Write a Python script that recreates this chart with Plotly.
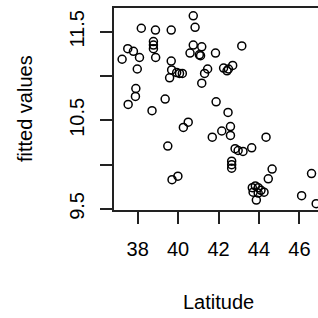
import plotly.graph_objects as go

latitude = [38.18, 38.88, 39.66, 38.78, 38.78, 38.78, 38.89, 37.51, 37.79, 38.09,
            37.23, 37.98, 39.66, 39.68, 39.58, 39.93, 40.07, 40.21, 37.91, 37.89,
            37.53, 39.36, 38.71, 40.26, 40.50, 39.49, 39.70, 39.99, 40.75, 40.84,
            40.75, 41.17, 40.59, 41.05, 41.11, 41.85, 43.15, 41.46, 41.31, 41.17,
            42.25, 42.49, 42.70, 42.42, 41.88, 42.47, 42.59, 42.16, 42.59, 41.69,
            42.82, 42.97, 43.21, 43.64, 44.35, 42.65, 42.65, 42.65, 44.65, 44.46,
            43.67, 43.82, 43.96, 44.10, 44.25, 43.71, 43.96, 43.87, 46.60, 46.11,
            46.83]
fitted = [11.54, 11.52, 11.52, 11.39, 11.35, 11.31, 11.21, 11.31, 11.28, 11.21,
          11.19, 11.08, 11.17, 11.07, 10.98, 11.04, 11.03, 11.03, 10.86, 10.77,
          10.68, 10.74, 10.61, 10.42, 10.48, 10.21, 9.83, 9.87, 11.68, 11.55,
          11.35, 11.33, 11.26, 11.24, 11.23, 11.26, 11.34, 11.08, 11.03, 10.92,
          11.09, 11.08, 11.12, 11.06, 10.71, 10.59, 10.43, 10.38, 10.33, 10.31,
          10.18, 10.16, 10.15, 10.19, 10.31, 10.04, 10.00, 9.96, 9.95, 9.84,
          9.74, 9.76, 9.74, 9.71, 9.69, 9.69, 9.68, 9.60, 9.90, 9.65,
          9.56]

x_ticks = [38, 40, 42, 44, 46]
y_ticks = [9.5, 10.0, 10.5, 11.0, 11.5]
y_tick_labels = ["9.5", "", "10.5", "", "11.5"]

FONT = "Liberation Sans, Arial, sans-serif"

fig = go.Figure()
fig.add_trace(go.Scatter(
    x=latitude, y=fitted, mode="markers",
    marker=dict(symbol="circle-open", size=8, color="black", line=dict(width=1.5, color="black")),
    showlegend=False, hoverinfo="skip",
))

fig.update_layout(
    width=318, height=318,
    margin=dict(l=113, r=0, t=7, b=107),
    paper_bgcolor="white", plot_bgcolor="white",
    font=dict(family=FONT, size=21, color="black"),
    xaxis=dict(range=[36.78, 46.92], tickvals=x_ticks, ticktext=[str(v) for v in x_ticks],
               showgrid=False, zeroline=False, showline=False,
               ticks="outside", ticklen=12, tickwidth=2, tickcolor="#222",
               ticklabelstandoff=8, tickfont=dict(size=20)),
    yaxis=dict(range=[9.477, 11.78], tickvals=y_ticks, ticktext=y_tick_labels,
               showgrid=False, zeroline=False, showline=False,
               ticks="outside", ticklen=12, tickwidth=2, tickcolor="#222",
               ticklabelstandoff=8, tickangle=-90, tickfont=dict(size=20)),
    shapes=[dict(type="rect", xref="paper", yref="paper", x0=0, x1=1.2, y0=0, y1=1,
                 line=dict(color="#222", width=2), fillcolor="rgba(0,0,0,0)")],
    annotations=[
        dict(text="Latitude", xref="paper", yref="paper", x=0.517, y=-0.446,
             xanchor="center", yanchor="middle", showarrow=False, font=dict(size=20)),
        dict(text="fitted values", xref="paper", yref="paper", x=-0.429, y=0.5,
             xanchor="center", yanchor="middle", showarrow=False, textangle=-90,
             font=dict(size=20)),
    ],
)

fig.write_html("out.html", config={"displayModeBar": False, "staticPlot": True},
               post_script="document.body.style.margin='0';document.body.style.overflow='hidden';")
